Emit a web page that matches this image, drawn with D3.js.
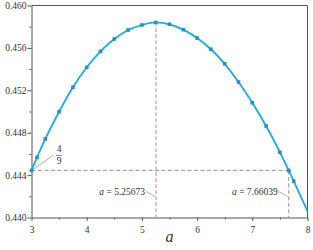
<!DOCTYPE html>
<html>
<head>
    <script src="https://d3js.org/d3.v7.min.js"></script>
    <style>
        body { margin: 0; background: #fff; }
        svg text { font-family: "Liberation Serif", serif; fill: #333; }
        .axis path, .axis line { stroke: #555; }
    </style>
</head>
<body>
<div id="chart"></div>
<script>
    // values
    const aValues = [3, 3.1, 3.25, 3.5, 3.75, 4, 4.25, 4.5, 4.75, 5, 5.25, 5.5, 5.75,
        6, 6.25, 6.5, 6.75, 7, 7.25, 7.5, 7.66039, 7.75, 8];
    const fValues = [0.44444, 0.44568, 0.44741, 0.44998, 0.45228, 0.45417, 0.45568,
        0.45684, 0.45769, 0.45816, 0.45840, 0.45823, 0.45772, 0.45693, 0.45587,
        0.45450, 0.45278, 0.45083, 0.44863, 0.44615, 0.44444, 0.44344, 0.44061];
    const xTicks = [3, 4, 5, 6, 7, 8];
    const yTicks = [0.440, 0.444, 0.448, 0.452, 0.456, 0.460];
    const level = 4 / 9;
    const peakA = 5.25673, peakF = 0.45841;
    const crossA = 7.66039;

    const width = 313, height = 250;
    const plotLeft = 31.5, plotRight = 307.5, plotTop = 5.5, plotBottom = 217.5;
    const serif = '"Liberation Serif", serif';

    const data = aValues.map((a, i) => ({ a: a, f: fValues[i] }));

    const svg = d3.select('#chart').append('svg')
        .attr('width', width)
        .attr('height', height);

    const x = d3.scaleLinear().domain([3, 8]).range([plotLeft, plotRight]);
    const y = d3.scaleLinear().domain([0.440, 0.460]).range([plotBottom, plotTop]);

    // minor ticks
    svg.append('g')
        .attr('class', 'axis')
        .attr('transform', `translate(0,${plotBottom})`)
        .call(d3.axisBottom(x).tickValues(d3.range(3.5, 8, 1)).tickSize(2).tickFormat(''))
        .call(g => g.select('.domain').remove());
    svg.append('g')
        .attr('class', 'axis')
        .attr('transform', `translate(${plotLeft},0)`)
        .call(d3.axisLeft(y).tickValues(d3.range(0.442, 0.460, 0.004)).tickSize(2).tickFormat(''))
        .call(g => g.select('.domain').remove());

    // major ticks
    svg.append('g')
        .attr('class', 'axis')
        .attr('transform', `translate(0,${plotBottom})`)
        .call(d3.axisBottom(x).tickValues(xTicks).tickSize(3.5).tickSizeOuter(0).tickPadding(5).tickFormat(d3.format('d')))
        .attr('font-family', serif)
        .call(g => g.selectAll('text').attr('font-size', 9.5).attr('fill', '#333'));
    svg.append('g')
        .attr('class', 'axis')
        .attr('transform', `translate(${plotLeft},0)`)
        .call(d3.axisLeft(y).tickValues(yTicks).tickSize(4).tickSizeOuter(0).tickPadding(1).tickFormat(d3.format('.3f')))
        .attr('font-family', serif)
        .call(g => g.selectAll('text').attr('font-size', 9.5).attr('fill', '#333'));

    // frame top/right
    svg.append('path')
        .attr('d', `M${plotLeft},${plotTop}H${plotRight}V${plotBottom}`)
        .attr('fill', 'none')
        .attr('stroke', '#555');

    // guide lines
    svg.append('line')
        .attr('x1', x(peakA)).attr('x2', x(peakA))
        .attr('y1', y(peakF)).attr('y2', plotBottom)
        .attr('stroke', '#b8b8b8').attr('stroke-width', 1.4)
        .attr('stroke-dasharray', '4,2');
    svg.append('line')
        .attr('x1', plotLeft).attr('x2', x(crossA))
        .attr('y1', y(level)).attr('y2', y(level))
        .attr('stroke', '#888').attr('stroke-width', 0.9)
        .attr('stroke-dasharray', '4,2.5');
    svg.append('line')
        .attr('x1', x(crossA)).attr('x2', x(crossA))
        .attr('y1', y(level)).attr('y2', plotBottom)
        .attr('stroke', '#888').attr('stroke-width', 0.9)
        .attr('stroke-dasharray', '4,2.5');

    // curve
    const line = d3.line()
        .x(d => x(d.a))
        .y(d => y(d.f))
        .curve(d3.curveMonotoneX);
    svg.append('path')
        .datum(data)
        .attr('d', line)
        .attr('fill', 'none')
        .attr('stroke', '#17ade6')
        .attr('stroke-width', 1.8);

    svg.selectAll('.pt')
        .data(data.filter(d => d.a < 8))
        .enter()
        .append('rect')
        .attr('class', 'pt')
        .attr('x', d => x(d.a) - 1.8)
        .attr('y', d => y(d.f) - 1.8)
        .attr('width', 3.6)
        .attr('height', 3.6)
        .attr('fill', '#2a8fc0');

    // annotations
    function label(xa, value) {
        const xp = x(xa);
        const t = svg.append('text')
            .attr('x', xp - 11)
            .attr('y', 195)
            .attr('text-anchor', 'end')
            .attr('font-family', serif)
            .attr('font-size', 9.5);
        t.append('tspan').attr('font-style', 'italic').text('a');
        t.append('tspan').text(' = ' + value);
        svg.append('line')
            .attr('x1', xp - 10).attr('y1', 191.5)
            .attr('x2', xp - 1).attr('y2', 196.5)
            .attr('stroke', '#777').attr('stroke-width', 0.6);
    }
    label(peakA, '5.25673');
    label(crossA, '7.66039');

    // 4/9 label
    svg.append('line')
        .attr('x1', x(3) + 1).attr('y1', y(level) - 0.5)
        .attr('x2', x(3) + 21.5).attr('y2', y(level) - 15)
        .attr('stroke', '#777').attr('stroke-width', 0.6);
    svg.append('text').attr('x', x(3) + 27.5).attr('y', y(level) - 18.5)
        .attr('text-anchor', 'middle').attr('font-family', serif).attr('font-size', 9.5).text('4');
    svg.append('line')
        .attr('x1', x(3) + 24.5).attr('x2', x(3) + 30.5)
        .attr('y1', y(level) - 15).attr('y2', y(level) - 15)
        .attr('stroke', '#333').attr('stroke-width', 0.6);
    svg.append('text').attr('x', x(3) + 27.5).attr('y', y(level) - 6)
        .attr('text-anchor', 'middle').attr('font-family', serif).attr('font-size', 9.5).text('9');

    // axis title
    svg.append('text')
        .attr('x', (plotLeft + plotRight) / 2)
        .attr('y', 242)
        .attr('text-anchor', 'middle')
        .attr('font-family', serif)
        .attr('font-size', 16)
        .attr('font-style', 'italic')
        .text('a');
</script>
</body>
</html>
